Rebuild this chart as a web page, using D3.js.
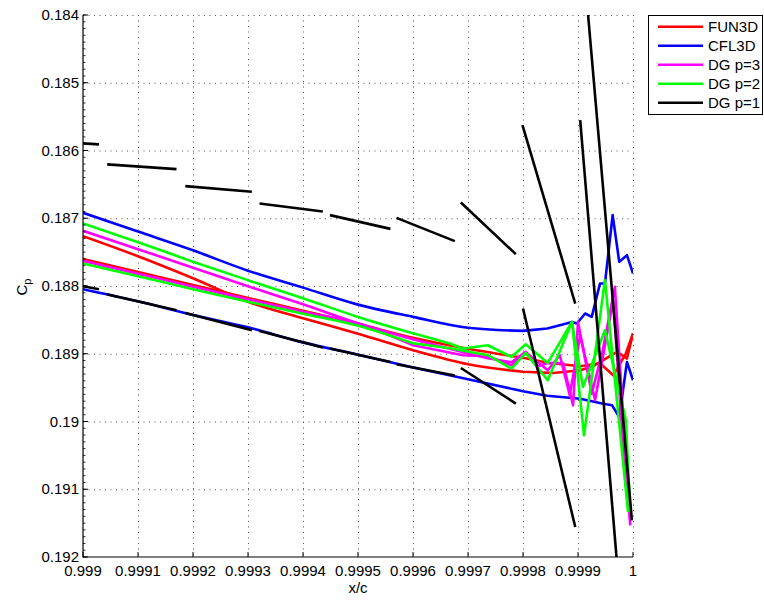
<!DOCTYPE html>
<html><head><meta charset="utf-8">
<script src="https://cdn.jsdelivr.net/npm/d3@7"></script>
<style>body{margin:0;background:#fff} svg{display:block} text{font-family:"Liberation Sans",Arial,Helvetica,sans-serif}</style>
</head><body><svg id="c" width="764" height="601"></svg>
<script>
// ---- tick data ----
const xTicks = [0.999,0.9991,0.9992,0.9993,0.9994,0.9995,0.9996,0.9997,0.9998,0.9999,1.0];
const xTickLabels = ["0.999","0.9991","0.9992","0.9993","0.9994","0.9995","0.9996","0.9997","0.9998","0.9999","1"];
const yTicks = [0.184,0.185,0.186,0.187,0.188,0.189,0.190,0.191,0.192];
const yTickLabels = ["0.184","0.185","0.186","0.187","0.188","0.189","0.19","0.191","0.192"];
const seriesNames = ["FUN3D","CFL3D","DG p=3","DG p=2","DG p=1"];

// ---- FUN3D (two surfaces) ----
const fun3dA = [[0.999,0.187264],[0.9991,0.18756],[0.9992,0.187885],[0.9993,0.188232],[0.9994,0.188476],[0.9995,0.188705],[0.9996,0.188948],[0.9997,0.189155],[0.9998,0.189266],[0.999855,0.189284],[0.999904,0.189244],[0.999927,0.189185],[0.999971,0.188973],[0.999989,0.189071],[1.0,0.188702]];
const fun3dB = [[0.999,0.1876],[0.9991,0.187792],[0.9992,0.187984],[0.9993,0.188176],[0.9994,0.188366],[0.9995,0.188558],[0.9996,0.188764],[0.9997,0.188926],[0.9998,0.189059],[0.999845,0.189133],[0.999904,0.189185],[0.99994,0.18914],[0.999964,0.189318],[0.999987,0.188997],[1.0,0.188702]];
// ---- CFL3D ----
const cfl3dA = [[0.999,0.18692],[0.9991,0.187196],[0.9992,0.187473],[0.9993,0.187774],[0.9994,0.188024],[0.9995,0.188275],[0.9996,0.188456],[0.9997,0.188617],[0.9998,0.188663],[0.999844,0.188628],[0.999867,0.188579],[0.999889,0.18853],[0.999898,0.188554],[0.999913,0.188406],[0.999925,0.188456],[0.99994,0.187963],[0.999949,0.187963],[0.999963,0.186954],[0.999975,0.187644],[0.999989,0.187545],[1.0,0.187815]];
const cfl3dB = [[0.999,0.188047],[0.9991,0.188226],[0.9992,0.188428],[0.9993,0.18861],[0.9994,0.188832],[0.9995,0.189015],[0.9996,0.189202],[0.9997,0.189377],[0.9998,0.189554],[0.999844,0.18962],[0.999904,0.189665],[0.999946,0.189739],[0.999962,0.189761],[0.999975,0.189934],[0.999989,0.189121],[1.0,0.189391]];
// ---- DG p=3 ----
const dg3A = [[0.999,0.187186],[0.9991,0.187456],[0.9992,0.18773],[0.9993,0.188003],[0.9994,0.188269],[0.9995,0.188549],[0.9996,0.188786],[0.999691,0.188978],[0.999736,0.189066],[0.999779,0.189126],[0.999805,0.188973],[0.999827,0.189185],[0.999845,0.189136],[0.999873,0.18914],[0.999891,0.189761],[0.9999,0.18853],[0.999925,0.189588],[0.999945,0.188948],[0.999967,0.188013],[0.999995,0.191533]];
const dg3B = [[0.999,0.187629],[0.9991,0.187818],[0.9992,0.18801],[0.9993,0.188195],[0.9994,0.18838],[0.9995,0.188557],[0.9996,0.188874],[0.999691,0.189022],[0.999736,0.189037],[0.999779,0.18917],[0.999805,0.188978],[0.999845,0.189244],[0.999867,0.189022],[0.999885,0.189613],[0.999904,0.188727],[0.999931,0.189687],[0.999949,0.188874],[0.999964,0.18821],[0.999985,0.190721],[0.999995,0.191459]];
// ---- DG p=2 ----
const dg2A = [[0.999,0.187077],[0.9991,0.187353],[0.9992,0.187641],[0.9993,0.187914],[0.9994,0.18818],[0.9995,0.188456],[0.9996,0.188697],[0.999667,0.188849],[0.999691,0.188923],[0.999736,0.188874],[0.999779,0.189047],[0.999805,0.18886],[0.999845,0.189136],[0.999889,0.18853],[0.999911,0.190204],[0.999949,0.187914],[0.999991,0.191337]];
const dg2B = [[0.999,0.187668],[0.9991,0.187855],[0.9992,0.188047],[0.9993,0.188232],[0.9994,0.188409],[0.9995,0.188586],[0.9996,0.188845],[0.999667,0.188919],[0.999736,0.189022],[0.999779,0.189219],[0.999805,0.188988],[0.999845,0.189391],[0.999889,0.18853],[0.999909,0.18949],[0.999949,0.188653],[0.999987,0.189982],[0.999995,0.191337]];
// ---- DG p=1 (discontinuous element segments) ----
const dg1Segs = [
  [[0.999,0.185895],[0.999029,0.18591]],
  [[0.999044,0.186205],[0.99917,0.186275]],
  [[0.999186,0.186526],[0.999307,0.18661]],
  [[0.999321,0.186782],[0.999436,0.1869]],
  [[0.999449,0.186954],[0.999559,0.187157]],
  [[0.99957,0.186994],[0.999676,0.187338]],
  [[0.999687,0.186767],[0.999787,0.18753]],
  [[0.999799,0.185625],[0.999895,0.188259]],
  [[0.999904,0.185551],[0.9999705,0.19205]],
  [[0.999913,0.1835],[0.999998,0.191459]],
  [[0.999,0.188003],[0.999029,0.188047]],
  [[0.999043,0.188121],[0.99917,0.188357]],
  [[0.999186,0.188397],[0.999307,0.188653]],
  [[0.999321,0.188663],[0.999436,0.188909]],
  [[0.999449,0.188923],[0.999559,0.189121]],
  [[0.99957,0.189155],[0.999676,0.189322]],
  [[0.999687,0.18921],[0.999787,0.189736]],
  [[0.9998,0.188332],[0.999895,0.191558]]
];
const colors = ["#ff0000","#0000ff","#ff00ff","#00ff00","#000000"];
const smoothUntil = [0.9998, 0.9998, 0.9996, 0.9996];

const svg = d3.select("#c");
const L = 83, R = 633, T = 15, B = 557;
const x = d3.scaleLinear().domain([0.999, 1.0]).range([L, R]);
const y = d3.scaleLinear().domain([0.184, 0.192]).range([T, B]);

svg.append("defs").append("clipPath").attr("id","clip")
  .append("rect").attr("x",L).attr("y",T).attr("width",R-L).attr("height",B-T);

// grid
const g = svg.append("g");
g.selectAll(".vg").data(xTicks.slice(1)).enter().append("line")
  .attr("x1",d=>x(d)+0.5).attr("x2",d=>x(d)+0.5).attr("y1",T).attr("y2",B)
  .attr("stroke","#555").attr("stroke-width",1).attr("stroke-dasharray","1,4.5");
g.selectAll(".hg").data(yTicks.slice(0,-1)).enter().append("line")
  .attr("y1",d=>y(d)+0.5).attr("y2",d=>y(d)+0.5).attr("x1",L).attr("x2",R)
  .attr("stroke","#555").attr("stroke-width",1).attr("stroke-dasharray","1,4.5");

const lineLin = d3.line().x(d=>x(d[0])).y(d=>y(d[1]));
const lineSm = d3.line().x(d=>x(d[0])).y(d=>y(d[1])).curve(d3.curveMonotoneX);
const plot = svg.append("g").attr("clip-path","url(#clip)");
const groups = [[fun3dA,fun3dB],[cfl3dA,cfl3dB],[dg3A,dg3B],[dg2A,dg2B]];
groups.forEach((arr,i)=>{
  arr.forEach(s=>{
    let k = 0;
    s.forEach((p,j)=>{ if (p[0] <= smoothUntil[i] + 1e-9) k = j; });
    const pts = lineSm(s.slice(0,k+1)).replace(/^M[^C]*/, m=>m);
    const d = lineSm(s.slice(0,k+1)) + lineLin(s.slice(k)).replace(/^M[^L]*/, "");
    plot.append("path").attr("d",d).attr("fill","none")
      .attr("stroke",colors[i]).attr("stroke-width",2.6).attr("stroke-linejoin","round");
  });
});
dg1Segs.forEach(s=>{
  plot.append("path").attr("d",lineLin(s)).attr("fill","none")
    .attr("stroke",colors[4]).attr("stroke-width",2.6);
});

// axes
const ax = svg.append("g");
ax.append("line").attr("x1",L).attr("x2",L).attr("y1",T).attr("y2",B+0.5).attr("stroke","#000").attr("stroke-width",1.2);
ax.append("line").attr("x1",L).attr("x2",R).attr("y1",B).attr("y2",B).attr("stroke","#000").attr("stroke-width",1.2);
ax.selectAll(".yt").data(yTicks).enter().append("line")
  .attr("x1",L).attr("x2",L+5).attr("y1",d=>y(d)).attr("y2",d=>y(d)).attr("stroke","#000");
const yMinor = d3.range(0,81).map(i=>0.184+i*0.0001);
ax.selectAll(".ym").data(yMinor).enter().append("line")
  .attr("x1",L).attr("x2",L+2.5).attr("y1",d=>y(d)).attr("y2",d=>y(d)).attr("stroke","#000").attr("stroke-width",0.8);
ax.selectAll(".xt").data(xTicks).enter().append("line")
  .attr("x1",d=>x(d)).attr("x2",d=>x(d)).attr("y1",B).attr("y2",B-5).attr("stroke","#000");
ax.selectAll(".xl").data(xTicks).enter().append("text")
  .attr("x",d=>x(d)).attr("y",B+19).attr("text-anchor","middle")
  .attr("font-size",15).text((d,i)=>xTickLabels[i]);
ax.selectAll(".yl").data(yTicks).enter().append("text")
  .attr("x",L-4).attr("y",d=>y(d)+5).attr("text-anchor","end")
  .attr("font-size",15).text((d,i)=>yTickLabels[i]);

svg.append("text").attr("x",358).attr("y",593).attr("text-anchor","middle").attr("font-size",15).text("x/c");
const yl = svg.append("text").attr("transform","translate(27,287) rotate(-90)").attr("text-anchor","middle").attr("font-size",15);
yl.append("tspan").text("C");
yl.append("tspan").attr("font-size",11).attr("dy",4).text("p");

// legend
const lg = svg.append("g");
lg.append("rect").attr("x",648.5).attr("y",15.5).attr("width",114).attr("height",99).attr("fill","#fff").attr("stroke","#000").attr("stroke-width",1);
seriesNames.forEach((n,i)=>{
  const yy = 26.7 + i*19;
  lg.append("line").attr("x1",658).attr("x2",703).attr("y1",yy).attr("y2",yy).attr("stroke",colors[i]).attr("stroke-width",2.6);
  lg.append("text").attr("x",708).attr("y",yy+5.5).attr("font-size",15).text(n);
});
</script></body></html>
